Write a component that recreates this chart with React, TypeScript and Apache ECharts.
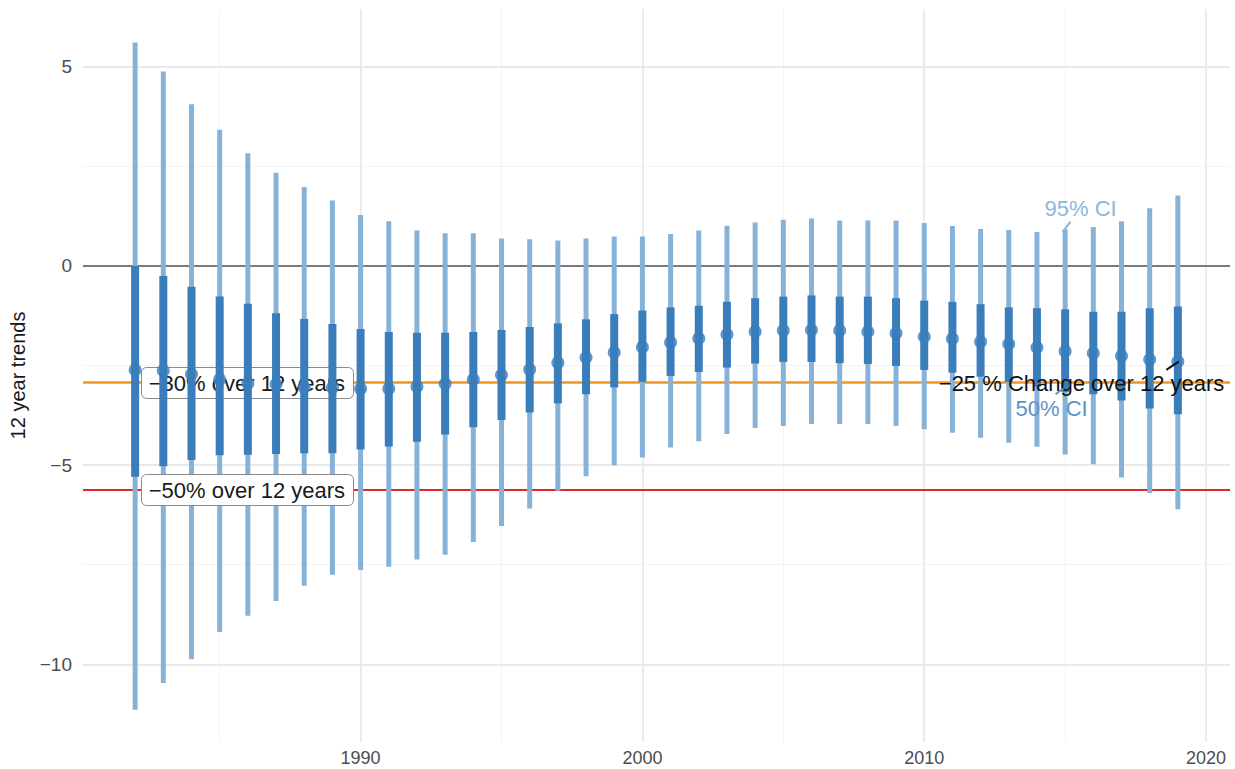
import React, { useEffect, useRef } from "react";
import * as echarts from "echarts";

// ---------------- data ----------------
const YEARS = [
  1982, 1983, 1984, 1985, 1986, 1987, 1988, 1989, 1990, 1991,
  1992, 1993, 1994, 1995, 1996, 1997, 1998, 1999, 2000, 2001,
  2002, 2003, 2004, 2005, 2006, 2007, 2008, 2009, 2010, 2011,
  2012, 2013, 2014, 2015, 2016, 2017, 2018, 2019,
];
const ESTIMATE = [
  -2.61, -2.63, -2.72, -2.85, -2.95, -2.97, -3.05, -3.06, -3.08, -3.08,
  -3.03, -2.96, -2.85, -2.74, -2.6, -2.43, -2.3, -2.17, -2.04, -1.92,
  -1.82, -1.72, -1.65, -1.62, -1.61, -1.62, -1.65, -1.69, -1.78, -1.83,
  -1.9, -1.96, -2.05, -2.14, -2.19, -2.26, -2.35, -2.4,
];
const LO50 = [
  -5.29, -5.03, -4.87, -4.75, -4.74, -4.72, -4.7, -4.7, -4.61, -4.53,
  -4.41, -4.23, -4.05, -3.87, -3.68, -3.45, -3.22, -3.05, -2.91, -2.76,
  -2.66, -2.55, -2.45, -2.41, -2.41, -2.44, -2.46, -2.51, -2.61, -2.68,
  -2.78, -2.91, -3.03, -3.16, -3.22, -3.38, -3.58, -3.72,
];
const HI50 = [
  0.0, -0.25, -0.52, -0.77, -0.95, -1.19, -1.33, -1.46, -1.58, -1.66,
  -1.68, -1.68, -1.66, -1.61, -1.53, -1.44, -1.34, -1.21, -1.12, -1.04,
  -1.0, -0.9, -0.81, -0.77, -0.74, -0.77, -0.77, -0.81, -0.87, -0.9,
  -0.96, -1.04, -1.06, -1.09, -1.15, -1.15, -1.06, -1.02,
];
const LO95 = [
  -11.14, -10.47, -9.87, -9.19, -8.78, -8.41, -8.03, -7.75, -7.63, -7.55,
  -7.37, -7.25, -6.93, -6.53, -6.09, -5.64, -5.28, -5.0, -4.81, -4.56,
  -4.4, -4.22, -4.07, -4.02, -3.97, -3.97, -3.97, -4.02, -4.1, -4.19,
  -4.31, -4.44, -4.54, -4.73, -4.98, -5.31, -5.7, -6.11,
];
const HI95 = [
  5.61, 4.88, 4.06, 3.42, 2.83, 2.34, 1.98, 1.64, 1.28, 1.12,
  0.89, 0.82, 0.82, 0.69, 0.67, 0.64, 0.69, 0.74, 0.74, 0.8,
  0.89, 1.01, 1.09, 1.16, 1.19, 1.14, 1.14, 1.14, 1.08, 1.0,
  0.93, 0.9, 0.85, 0.92, 0.98, 1.12, 1.45, 1.77,
];

const X_TICKS = [1990, 2000, 2010, 2020];
const X_MINOR = [1985, 1995, 2005, 2015];
const Y_TICKS = [-10, -5, 0, 5];
const Y_MINOR = [-7.5, -2.5, 2.5];

const ZERO_LINE = 0;
const LINE_30 = -2.93; // -30% over 12 years
const LINE_50 = -5.61; // -50% over 12 years

const X_MIN = 1980.15;
const X_MAX = 2020.85;
const Y_MIN = -11.95;
const Y_MAX = 6.45;

// annotation anchors (data coordinates)
const LABEL_30 = { text: "\u221230% over 12 years", x: 1982.2, y: LINE_30 };
const LABEL_50 = { text: "\u221250% over 12 years", x: 1982.2, y: LINE_50 };
const LABEL_25 = { text: "\u221225 % Change over 12 years", x: 2020.65, y: -2.94 };
const LABEL_95 = { text: "95% CI", x: 2015.55, y: 1.43 };
const LABEL_50CI = { text: "50% CI", x: 2014.52, y: -3.59 };
const LEADER_95 = [[2014.91, 0.85], [2015.19, 1.11]];
const LEADER_50CI = [[2014.66, -3.22], [2014.95, -3.07]];
const LEADER_25 = [[2018.59, -2.61], [2019.03, -2.4]];

const DARK = "#3a7dbb";
const LIGHT = "#87b2d8";

export default function App() {
  const ref = useRef<HTMLDivElement>(null);

  useEffect(() => {
    if (!ref.current) return;
    const chart = echarts.init(ref.current, undefined, { renderer: "svg" });

    const rangeRender = (color: string, width: number) => (params: any, api: any) => {
      const x = api.value(0);
      const p1 = api.coord([x, api.value(1)]);
      const p2 = api.coord([x, api.value(2)]);
      return {
        type: "line",
        shape: { x1: p1[0], y1: p1[1], x2: p2[0], y2: p2[1] },
        style: { stroke: color, lineWidth: width, lineCap: "butt" },
      };
    };

    const MAJOR = { color: "#e9e9e9", width: 1.8, type: "solid" };
    const MINOR = { color: "#f3f3f3", width: 1, type: "solid" };
    const gridLines = [
      ...X_MINOR.map((v) => ({ xAxis: v, lineStyle: MINOR })),
      ...Y_MINOR.map((v) => ({ yAxis: v, lineStyle: MINOR })),
      ...X_TICKS.map((v) => ({ xAxis: v, lineStyle: MAJOR })),
      ...Y_TICKS.map((v) => ({ yAxis: v, lineStyle: MAJOR })),
    ];

    const tickFont = "'Liberation Sans Narrow', 'Liberation Sans', Arial, sans-serif";

    chart.setOption({
      animation: false,
      backgroundColor: "#ffffff",
      grid: { left: 80, right: 5, top: 9, bottom: 27, containLabel: false },
      xAxis: {
        type: "value",
        min: X_MIN,
        max: X_MAX,
        axisLine: { show: false },
        axisTick: { show: false },
        splitLine: { show: false },
        axisLabel: {
          customValues: X_TICKS,
          color: "#4d4d4d",
          fontSize: 18,
          fontFamily: tickFont,
          margin: 7,
          formatter: (v: number) => String(v),
        },
      },
      yAxis: {
        type: "value",
        min: Y_MIN,
        max: Y_MAX,
        name: "12 year trends",
        nameLocation: "middle",
        nameGap: 55,
        nameTextStyle: { color: "#1a1a1a", fontSize: 20, fontFamily: "'Liberation Sans', Arial, sans-serif" },
        axisLine: { show: false },
        axisTick: { show: false },
        splitLine: { show: false },
        axisLabel: {
          customValues: Y_TICKS,
          color: "#4d4d4d",
          fontSize: 19,
          fontFamily: tickFont,
          margin: 11,
          formatter: (v: number) => (v < 0 ? "\u2212" + Math.abs(v) : String(v)),
        },
      },
      series: [
        {
          type: "line",
          name: "grid",
          data: [],
          z: 0,
          silent: true,
          markLine: {
            z: 0,
            silent: true,
            animation: false,
            symbol: ["none", "none"],
            label: { show: false },
            data: gridLines,
          },
        },
        {
          type: "line",
          name: "refs",
          data: [],
          z: 1,
          silent: true,
          markLine: {
            z: 1,
            silent: true,
            animation: false,
            symbol: ["none", "none"],
            label: { show: false },
            data: [
              { yAxis: ZERO_LINE, lineStyle: { color: "#7a7a7a", width: 2, type: "solid" } },
              { yAxis: LINE_30, lineStyle: { color: "#f39420", width: 2.5, type: "solid" } },
              { yAxis: LINE_50, lineStyle: { color: "#dc2a2a", width: 2, type: "solid" } },
            ],
          },
        },
        {
          type: "custom",
          name: "95% CI",
          z: 2,
          renderItem: rangeRender(LIGHT, 5),
          encode: { x: 0, y: [1, 2] },
          data: YEARS.map((y, i) => [y, LO95[i], HI95[i]]),
        },
        {
          type: "custom",
          name: "50% CI",
          z: 5,
          renderItem: rangeRender(DARK, 8),
          encode: { x: 0, y: [1, 2] },
          data: YEARS.map((y, i) => [y, LO50[i], HI50[i]]),
        },
        {
          type: "scatter",
          name: "estimate",
          z: 6,
          symbol: "circle",
          symbolSize: 13,
          itemStyle: { color: DARK },
          data: YEARS.map((y, i) => [y, ESTIMATE[i]]),
        },
      ],
    });

    const px = (x: number, y: number) => chart.convertToPixel({ gridIndex: 0 }, [x, y]) as number[];
    const font = "'Liberation Sans', Arial, sans-serif";
    const FS = 22;

    const measure = (t: string) => {
      const c = document.createElement("canvas").getContext("2d");
      if (!c) return t.length * FS * 0.5;
      c.font = `${FS}px 'Liberation Sans', Arial, sans-serif`;
      return c.measureText(t).width;
    };

    const boxLabel = (lab: { text: string; x: number; y: number }) => {
      const p = px(lab.x, lab.y);
      const w = measure(lab.text);
      const padL = 8;
      const padR = 8;
      const h = 31;
      return [
        {
          type: "rect",
          z: 3,
          shape: { x: Math.round(p[0]) + 0.5, y: Math.round(p[1] - h / 2) + 0.5, width: Math.round(w + padL + padR), height: h, r: 5 },
          style: { fill: "#ffffff", stroke: "#8a8a8a", lineWidth: 1 },
        },
        {
          type: "text",
          z: 4,
          x: p[0] + padL,
          y: p[1] + 1,
          style: {
            text: lab.text,
            fontSize: FS,
            fontFamily: font,
            fill: "#1a1a1a",
            align: "left",
            verticalAlign: "middle",
          },
        },
      ];
    };

    const plainLabel = (
      lab: { text: string; x: number; y: number },
      color: string,
      align: string
    ) => {
      const p = px(lab.x, lab.y);
      return {
        type: "text",
        z: 10,
        x: p[0],
        y: p[1],
        style: {
          text: lab.text,
          fontSize: 22,
          fontFamily: font,
          fill: color,
          align,
          verticalAlign: "middle",
        },
      };
    };

    const leader = (pts: number[][], color: string) => {
      const a = px(pts[0][0], pts[0][1]);
      const b = px(pts[1][0], pts[1][1]);
      return {
        type: "line",
        z: 10,
        shape: { x1: a[0], y1: a[1], x2: b[0], y2: b[1] },
        style: { stroke: color, lineWidth: 2 },
      };
    };

    chart.setOption({
      graphic: {
        elements: [
          ...boxLabel(LABEL_30),
          ...boxLabel(LABEL_50),
          plainLabel(LABEL_25, "#111111", "right"),
          plainLabel(LABEL_95, "#8cb6dd", "center"),
          plainLabel(LABEL_50CI, "#5e92c6", "center"),
          leader(LEADER_95, "#8cb6dd"),
          leader(LEADER_50CI, "#5e92c6"),
          leader(LEADER_25, "#111111"),
        ],
      },
    });

    return () => chart.dispose();
  }, []);

  return (
    <div
      ref={ref}
      style={{ position: "absolute", left: 0, top: 0, width: 1235, height: 769, background: "#fff" }}
    />
  );
}
